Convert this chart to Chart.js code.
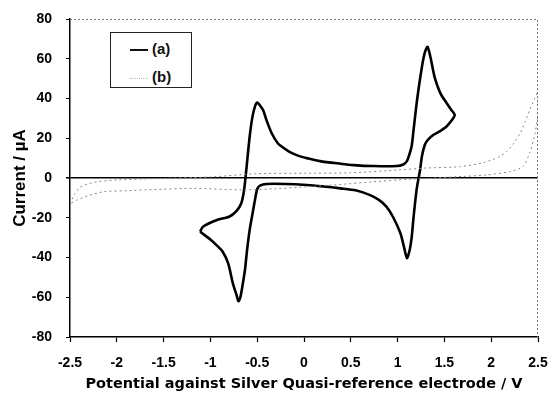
<!DOCTYPE html>
<html>
<head>
<meta charset="utf-8">
<script src="https://cdn.jsdelivr.net/npm/chart.js@4/dist/chart.umd.min.js"></script>
<style>
  html, body { margin: 0; padding: 0; background: #fff; }
  #wrap { position: relative; width: 549px; height: 394px; }
  .legend {
    position: absolute; left: 110px; top: 32px; width: 80px; height: 54px;
    border: 1px solid #222; background: #fff;
    font: bold 15px "Liberation Sans", Arial, sans-serif; color: #111;
  }
  .legend .row { position: absolute; left: 19px; height: 18px; line-height: 18px; }
  .legend .swatch { display: inline-block; width: 18px; vertical-align: middle; margin-right: 4px; }
</style>
</head>
<body>
<div id="wrap">
  <canvas id="cv"></canvas>
  <div class="legend">
    <div class="row" style="top:7px"><span class="swatch" style="border-top:2px solid #111"></span>(a)</div>
    <div class="row" style="top:35px"><span class="swatch" style="border-top:1px dotted #bbb"></span>(b)</div>
  </div>
</div>
<script>
// ── Data ──
// (a) cyclic voltammogram, one closed loop
const aX = [-1.11, -1.08, -0.93, -0.80, -0.72, -0.67, -0.64, -0.62, -0.58, -0.55, -0.52, -0.50, -0.47, -0.435,
  -0.40, -0.345, -0.28, -0.22, -0.15, -0.05, 0.03, 0.17, 0.39, 0.53, 0.74, 0.99, 1.06, 1.10, 1.12, 1.15, 1.17,
  1.21, 1.26, 1.29, 1.32, 1.35, 1.38, 1.40, 1.44, 1.47, 1.52, 1.57, 1.61,
  1.57, 1.52, 1.45, 1.38, 1.32, 1.29, 1.26, 1.24, 1.22, 1.20, 1.17, 1.15, 1.13, 1.10, 1.07, 1.03, 0.95, 0.88,
  0.80, 0.70, 0.55, 0.39, 0.20, 0.03, -0.20, -0.40, -0.47, -0.50, -0.52, -0.55, -0.58, -0.61, -0.63, -0.66,
  -0.68, -0.70, -0.72, -0.76, -0.81, -0.87, -0.93, -1.00, -1.11];
const aY = [-27, -24.5, -21.1, -19.5, -16.5, -12.7, -6, 2.4, 21, 31, 36.5, 38, 36.5, 34,
  29, 22.5, 17.5, 15.2, 13, 11, 10, 8.5, 7.2, 6.5, 6, 6, 6.8, 8.5, 11, 16, 24,
  40, 56, 63, 66, 61, 54, 50, 44.5, 41.5, 38, 34.5, 31.7,
  28.5, 25.8, 23.5, 21.6, 19, 16.6, 11, 4, -1, -7, -20, -30, -36, -40.4, -35, -27.8, -19.5, -14.4,
  -11, -8.5, -6.2, -5.2, -4.2, -3.5, -3.0, -3.0, -3.8, -5.5, -10, -18, -26, -37, -46, -55,
  -60, -62, -59, -53, -43, -37, -34, -31, -27];

// (b) background scan: upper branch left→right, lower branch right→left
const bUpX = [-2.5, -2.45, -2.39, -2.3, -2.2, -2.0, -1.6, -1.0, -0.5, 0, 0.5, 1.0, 1.3, 1.67, 1.9, 2.0,
  2.09, 2.17, 2.24, 2.31, 2.36, 2.41, 2.46, 2.5];
const bUpY = [-13, -8, -4.5, -2.8, -1.8, -1, -0.3, 0.5, 2.2, 2.4, 2.6, 4, 5, 5.7, 7.5, 9,
  10.7, 13.5, 17.5, 22.5, 28, 34, 39.5, 43.5];
const bLoX = [2.5, 2.49, 2.47, 2.41, 2.34, 2.2, 1.95, 1.7, 1.4, 1.1, 0.74, 0.4, 0.03, -0.3, -0.65, -1.18,
  -1.6, -1.89, -2.14, -2.3, -2.42, -2.5];
const bLoY = [31, 29, 22.5, 12.4, 5.7, 3.2, 1.5, 0.8, 0, -0.7, -1.9, -3.2, -4.4, -5.4, -6, -5.2,
  -5.8, -6.4, -6.9, -8.8, -11, -13];

const xTicks = [-2.5, -2, -1.5, -1, -0.5, 0, 0.5, 1, 1.5, 2, 2.5];
const yTicks = [-80, -60, -40, -20, 0, 20, 40, 60, 80];

const FONT = "'Liberation Sans', Arial, sans-serif";
const pts = (xs, ys) => xs.map((x, i) => ({ x, y: ys[i] }));

// dotted top/right frame
const framePlugin = {
  id: "frame",
  afterDraw(chart) {
    const { ctx, chartArea: a } = chart;
    ctx.save();
    ctx.strokeStyle = "#777";
    ctx.lineWidth = 1;
    ctx.setLineDash([2, 2]);
    ctx.beginPath();
    ctx.moveTo(a.left, a.top + 0.5);
    ctx.lineTo(a.right - 0.5, a.top + 0.5);
    ctx.lineTo(a.right - 0.5, a.bottom);
    ctx.stroke();
    ctx.restore();
  }
};

new Chart(document.getElementById("cv"), {
  type: "scatter",
  data: {
    datasets: [
      {
        label: "(b)",
        data: pts(bUpX.concat(bLoX), bUpY.concat(bLoY)),
        showLine: true,
        borderColor: "#888",
        borderWidth: 1,
        borderDash: [2, 3],
        pointRadius: 0,
        tension: 0.2,
      },
      {
        label: "(a)",
        data: pts(aX, aY),
        showLine: true,
        borderColor: "#000",
        borderWidth: 2.6,
        pointRadius: 0,
        tension: 0.25,
      },
    ]
  },
  options: {
    responsive: true,
    maintainAspectRatio: false,
    animation: false,
    layout: { padding: { top: 19, right: 11, left: 0, bottom: 0 } },
    plugins: { legend: { display: false }, tooltip: { enabled: false } },
    scales: {
      x: {
        type: "linear",
        min: -2.5, max: 2.5,
        afterBuildTicks: s => { s.ticks = xTicks.map(v => ({ value: v })); },
        afterFit: s => { s.height = 57; s.paddingLeft = 0; s.paddingRight = 0; },
        ticks: {
          color: "#000",
          font: { family: FONT, size: 14, weight: "bold" },
          padding: 13,
          maxRotation: 0,
          autoSkip: false,
          callback: v => String(v),
        },
        grid: { drawOnChartArea: false, tickLength: 5, tickColor: "#000", tickWidth: 1.2 },
        border: { color: "#000", width: 1.5 },
        title: {
          display: true,
          text: "Potential against Silver Quasi-reference electrode / V",
          color: "#000",
          font: { family: "'DejaVu Sans', sans-serif", size: 14.5, weight: "bold" },
          padding: { top: 0, bottom: 1 },
        },
      },
      y: {
        min: -80, max: 80,
        afterBuildTicks: s => { s.ticks = yTicks.map(v => ({ value: v })); },
        afterFit: s => { s.width = 70; s.paddingTop = 0; s.paddingBottom = 0; },
        ticks: {
          color: "#000",
          font: { family: FONT, size: 14, weight: "bold" },
          padding: 14,
          callback: v => String(v),
        },
        grid: {
          drawOnChartArea: true,
          tickLength: 4,
          tickColor: "#000",
          color: c => (c.tick && c.tick.value === 0 ? "#000" : "rgba(0,0,0,0)"),
          lineWidth: c => (c.tick && c.tick.value === 0 ? 1.6 : 1),
        },
        border: { color: "#000", width: 1.5 },
        title: {
          display: true,
          text: "Current / µA",
          color: "#000",
          font: { family: FONT, size: 17, weight: "bold" },
          padding: { top: 10, bottom: 0 },
        },
      },
    },
  },
  plugins: [framePlugin],
});
</script>
</body>
</html>
